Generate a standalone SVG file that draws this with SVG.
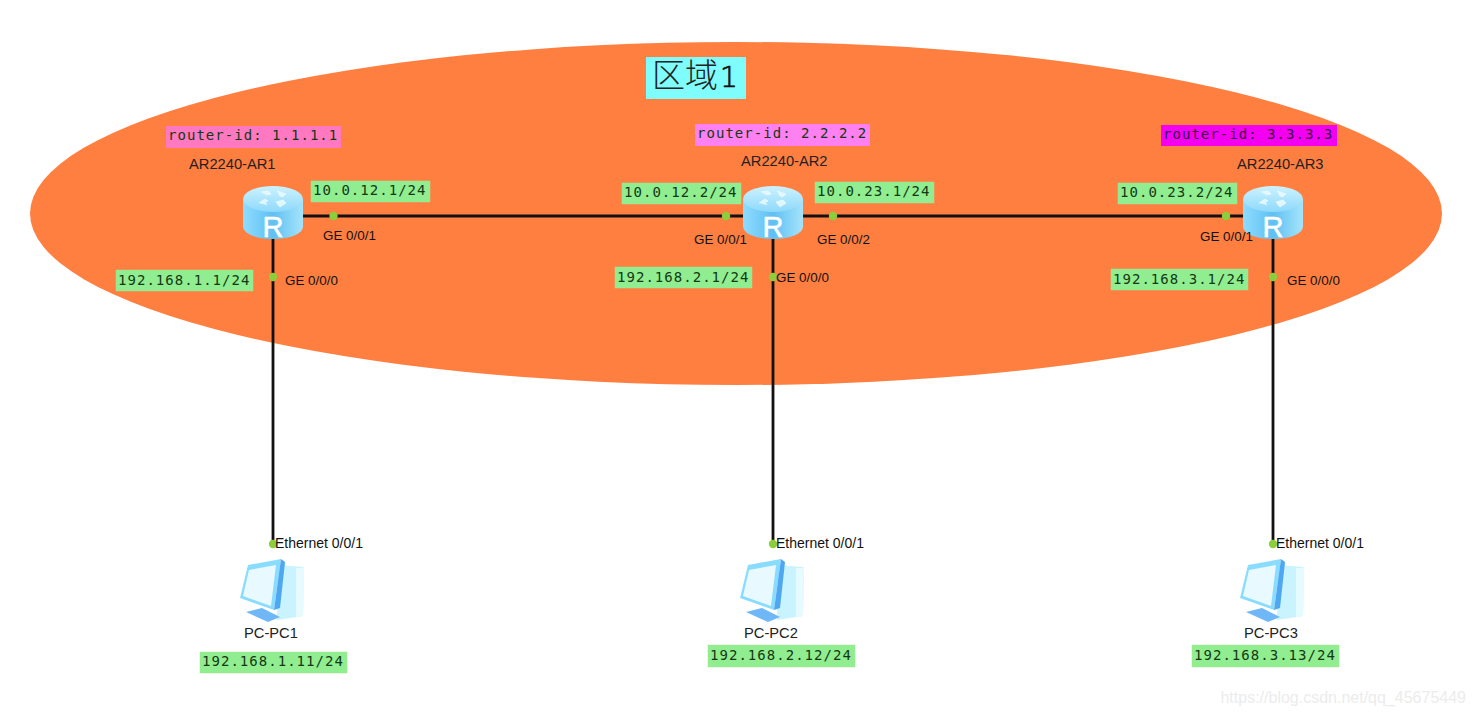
<svg xmlns="http://www.w3.org/2000/svg" width="1475" height="716" viewBox="0 0 1475 716">
<style>
.lb{font-family:"Liberation Sans",Arial,sans-serif;font-size:14.7px;fill:#222}
.port{font-family:"Liberation Sans",Arial,sans-serif;font-size:13.4px;fill:#111}
.eth{font-family:"Liberation Sans",Arial,sans-serif;font-size:14px;fill:#111}
.m{font-family:"DejaVu Sans Mono","Liberation Mono",monospace;font-size:14px;letter-spacing:1.03px;fill:#143814}
.g{fill:#90ee90;stroke:#a6e08e;stroke-width:.5}
.link{stroke:#111;stroke-width:2.8;fill:none}
.dot{fill:#8ccf3a}
</style>
<defs>
<linearGradient id="rs" x1="0" x2="1" y1="0" y2="0"><stop offset="0" stop-color="#8fdcff"/><stop offset=".5" stop-color="#5fc0f2"/><stop offset="1" stop-color="#a5e4fb"/></linearGradient>
<linearGradient id="rt" x1="0" x2="0" y1="0" y2="1"><stop offset="0" stop-color="#cdf2ff"/><stop offset="1" stop-color="#8ed9fb"/></linearGradient>
<g id="router">
<path d="M-30 -13V14C-30 22 -17 27 0 27S30 22 30 14V-13Z" fill="url(#rs)"/>
<ellipse cx="0" cy="-13" rx="30" ry="13" fill="url(#rt)"/>
<path d="M-12 -20l7 -1l3 3l-5 1M4 -21l9 3l-4 3l-3 -2M-14 -9l6 -4l3 2l-3 1l2 3M3 -10l7 -2l3 3l-6 4z" fill="#e8faff" stroke="#f4fdff" stroke-width=".8" opacity=".9"/>
<text x="0" y="25" text-anchor="middle" style="font-family:'Liberation Sans',Arial,sans-serif;font-size:29px;fill:#fff;stroke:#fff;stroke-width:.5">R</text>
</g>
<g id="pc">
<path d="M6 -27L31 -25Q32 -25 32 -22L31 24L5 28Z" fill="#c9f3ff"/>
<path d="M24 -24L32 -24L31 24L24 25Z" fill="#e6fbff"/>
<path d="M-26 20L-10 16L8 25L-4 30Z" fill="#6fb7f7"/>
<path d="M-24 -27L9 -33L2 18L-32 6Z" fill="#8adcff"/>
<path d="M-23 -22L4 -27L-1 14L-29 4Z" fill="#e8faff"/>
<path d="M9 -33L13 -30L8 16L2 18Z" fill="#4fa7f0"/>
</g>
</defs>
<rect width="1475" height="716" fill="#fff"/>
<ellipse id="area" cx="736" cy="213.5" rx="706" ry="171.5" fill="#ff7f41"/>
<g id="area-label"><rect x="646" y="57" width="100" height="42" fill="#7ffcfc"/><text x="652" y="87" style="font-family:'Noto Sans CJK SC','DejaVu Sans',sans-serif;font-size:33px;font-weight:300;fill:#222">区域<tspan dx="2" style="font-family:'DejaVu Sans',sans-serif;font-size:28px;stroke:#111;stroke-width:.7;fill:#111">1</tspan></text></g>
<g id="connectors">
<path class="link" d="M273 216H1273M273 216V544M773 216V544M1273 216V544"/>
<g class="dot"><circle cx="333.500" cy="216" r="4.200"/><circle cx="726" cy="216" r="4.200"/><circle cx="833" cy="216" r="4.200"/><circle cx="1226" cy="216" r="4.200"/><circle cx="273" cy="277" r="4.200"/><circle cx="773" cy="277" r="4.200"/><circle cx="1273" cy="277" r="4.200"/><circle cx="273" cy="544" r="4.200"/><circle cx="773" cy="544" r="4.200"/><circle cx="1273" cy="544" r="4.200"/></g>
</g>
<g id="AR1"><use href="#router" x="273" y="212"/><text class="lb" x="189" y="169">AR2240-AR1</text><rect x="166" y="126" width="175" height="22" fill="#ff78c0"/><text class="m" x="168" y="140">router-id: 1.1.1.1</text>
<rect class="g" x="311" y="181" width="119" height="21"/><text class="m" x="313" y="195">10.0.12.1/24</text>
<rect class="g" x="116" y="270" width="137" height="21"/><text class="m" x="118" y="285">192.168.1.1/24</text>
<text class="port" x="323" y="240">GE 0/0/1</text><text class="port" x="285" y="285">GE 0/0/0</text></g>
<g id="AR2"><use href="#router" x="773" y="212"/><text class="lb" x="741" y="166">AR2240-AR2</text><rect x="695" y="124" width="175" height="22" fill="#ff80f0"/><text class="m" x="697" y="138">router-id: 2.2.2.2</text>
<rect class="g" x="622" y="183" width="119" height="21"/><text class="m" x="624" y="197">10.0.12.2/24</text>
<rect class="g" x="815" y="182" width="119" height="21"/><text class="m" x="817" y="196">10.0.23.1/24</text>
<rect class="g" x="615" y="267" width="137" height="21"/><text class="m" x="617" y="282">192.168.2.1/24</text>
<text class="port" x="694" y="244">GE 0/0/1</text><text class="port" x="817" y="244">GE 0/0/2</text><text class="port" x="776" y="282">GE 0/0/0</text></g>
<g id="AR3"><use href="#router" x="1273" y="212"/><text class="lb" x="1237" y="169">AR2240-AR3</text><rect x="1161" y="125" width="176" height="21" fill="#f400f0"/><text class="m" x="1163" y="139" style="fill:#3a0a4a">router-id: 3.3.3.3</text>
<rect class="g" x="1118" y="183" width="119" height="21"/><text class="m" x="1120" y="197">10.0.23.2/24</text>
<rect class="g" x="1111" y="269" width="137" height="21"/><text class="m" x="1113" y="284">192.168.3.1/24</text>
<text class="port" x="1200" y="241">GE 0/0/1</text><text class="port" x="1287" y="285">GE 0/0/0</text></g>
<g id="PC1"><use href="#pc" x="272" y="592"/><text class="eth" x="275" y="548">Ethernet 0/0/1</text><text class="lb" x="244" y="638">PC-PC1</text><rect class="g" x="200" y="652" width="147" height="21"/><text class="m" x="202" y="666">192.168.1.11/24</text></g>
<g id="PC2"><use href="#pc" x="772" y="592"/><text class="eth" x="776" y="548">Ethernet 0/0/1</text><text class="lb" x="744" y="638">PC-PC2</text><rect class="g" x="708" y="645" width="147" height="22"/><text class="m" x="710" y="660">192.168.2.12/24</text></g>
<g id="PC3"><use href="#pc" x="1272" y="592"/><text class="eth" x="1276" y="548">Ethernet 0/0/1</text><text class="lb" x="1244" y="638">PC-PC3</text><rect class="g" x="1192" y="645" width="147" height="22"/><text class="m" x="1194" y="660">192.168.3.13/24</text></g>
<text x="1466" y="703" text-anchor="end" style="font-family:'Liberation Sans',Arial,sans-serif;font-size:16px;fill:#ececec">https://blog.csdn.net/qq_45675449</text>
</svg>
